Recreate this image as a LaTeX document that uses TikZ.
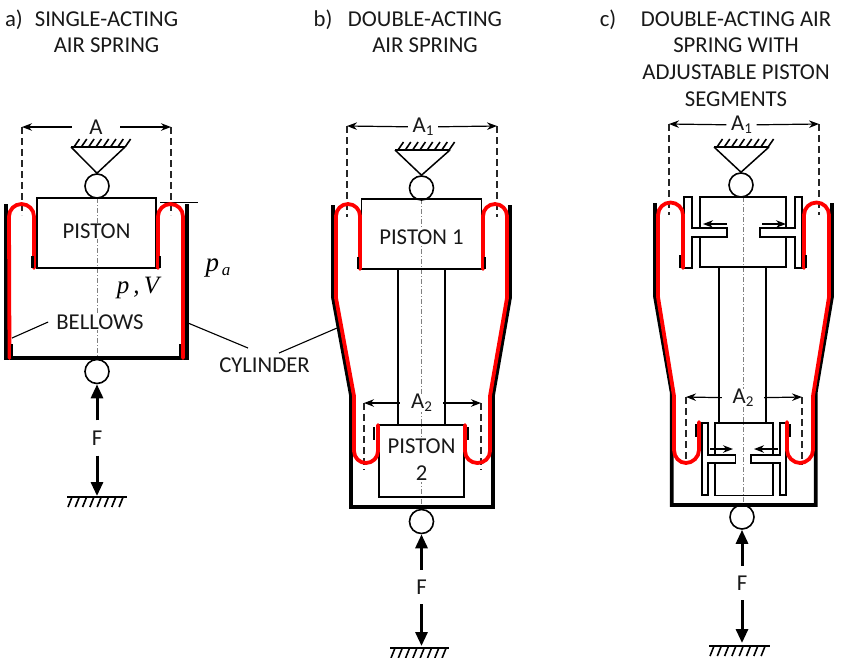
\documentclass[tikz,border=0pt]{standalone}
\usepackage{fontspec}
\setmainfont{Carlito}
\newfontfamily\tnr{Liberation Serif}
\usetikzlibrary{arrows.meta}
\tikzset{
  lab/.style={font=\fontsize{22.7}{27}\selectfont,inner sep=0pt,text=black!90,align=center},
  blab/.style={lab,fill=white,inner sep=1pt},
  dimlab/.style={lab,fill=none},
  cyl/.style={line width=3.6pt,black,line join=miter},
  bel/.style={line width=3.8pt,red,line cap=round,line join=round},
  mark0/.style={line width=2.6pt,black},
  thin0/.style={line width=1.5pt,black},
  box0/.style={draw=black,line width=1.5pt,inner sep=0pt},
  pin/.style={circle,draw=black,line width=1.6pt,minimum size=24pt,inner sep=0pt},
  dash0/.style={line width=1.2pt,black!85,dash pattern=on 7pt off 4pt},
  center0/.style={line width=.7pt,black!50,dash pattern=on 5pt off 2pt on 1pt off 2pt},
  dimarrow/.style={line width=1.2pt,black,-{Stealth[length=10pt,width=7.5pt]}},
  smallarrow/.style={line width=1.5pt,black,-{Stealth[length=10pt,width=7.5pt]}},
  force/.style={line width=3pt,black,-{Triangle[length=14pt,width=12pt]}},
  leader/.style={line width=1.1pt,black},
  hatch0/.style={line width=1.6pt,black},
  tee/.style={draw=black,fill=white,line width=1.5pt},
}
\newcommand\ceilhatch[3]{%
  \draw[hatch0] (#1,#3) -- (#2,#3);
  \foreach \hk in {0,...,7}{\pgfmathsetmacro\hx{#1+3+\hk*7.3}\draw[hatch0] (\hx,#3) -- ++(5.5,-8);}}
\newcommand\groundhatch[3]{%
  \draw[hatch0] (#1,#3) -- (#2,#3);
  \foreach \hk in {0,...,7}{\pgfmathsetmacro\hx{#1+5+\hk*7.3}\draw[hatch0] (\hx,#3) -- ++(-4,10);}}
\begin{document}
\begin{tikzpicture}[x=1pt,y=-1pt]
\useasboundingbox (0,0) rectangle (850,657);
\fill[white] (0,0) rectangle (850,657);

% ---------- titles
\node[lab] (ta) at (14,20) {a)};
\node[lab] (ta1) at (106.5,19) {SINGLE-ACTING};
\node[lab] (ta2) at (106.5,45) {AIR SPRING};
\node[lab] (tb) at (323,20) {b)};
\node[lab] (tb1) at (425,19) {DOUBLE-ACTING};
\node[lab] (tb2) at (425,45) {AIR SPRING};
\node[lab] (tc) at (608,20) {c)};
\node[lab] (tc1) at (736,19) {DOUBLE-ACTING AIR};
\node[lab] (tc2) at (736,45) {SPRING WITH};
\node[lab] (tc3) at (736,72) {ADJUSTABLE PISTON};
\node[lab] (tc4) at (736,99) {SEGMENTS};

% ---------- a) single-acting
\draw[center0] (97,198) -- (97,358);
\coordinate (dal) at (22,127); \coordinate (dar) at (171,127);
\draw[dash0] (dal) -- (22,215); \draw[dash0] (dar) -- (171,215);
\node[dimlab,minimum width=48pt] (dimA) at (96,127) {A};
\draw[dimarrow] (dimA) -- (dal); \draw[dimarrow] (dimA) -- (dar);
\node[pin] (ca) at (97,186) {};
\ceilhatch{71}{125}{147}
\draw[thin0] (71,147) -- (ca.north) -- (125,147);
\node[box0,minimum width=119pt,minimum height=70pt] (pa) at (96.5,233) {};
\node[blab] (pal) at (96.5,231) {PISTON};
\draw[thin0,line width=1pt] (160,202) -- (198,202);
\draw[cyl] (6,204) -- (6,358) -- (187,358) -- (187,204);
\draw[bel] (9.5,358) -- (9,216.5) .. controls (9,209.6) and (14.6,204) .. (21.5,204) .. controls (28.4,204) and (34,209.6) .. (34,216.5) -- (34,268);
\draw[bel] (158,268) -- (158,216.5) .. controls (158,209.6) and (163.6,204) .. (170.5,204) .. controls (177.4,204) and (183,209.6) .. (183,216.5) -- (183,358);
\draw[mark0] (32.7,256) -- (32.7,268); \draw[mark0] (160,256) -- (160,268);
\draw[mark0] (12,344) -- (12,358); \draw[mark0] (180,344) -- (180,358);
\node[inner sep=0pt,font=\tnr\itshape\fontsize{25}{25}\selectfont] (pV) at (138,288) {p\,,\,V};
\node[inner sep=0pt,font=\tnr\itshape\fontsize{27}{27}\selectfont] (pat) at (218,268) {p\raisebox{-4pt}{\fontsize{17}{17}\selectfont\,a}};
\node[blab,inner xsep=8pt] (belows) at (100,322) {BELLOWS};
\coordinate (beltip) at (12,338);
\draw[leader] (belows.west) -- (beltip);
\node[lab] (cylt) at (264.5,365) {CYLINDER};
\coordinate (cylL0) at (248,348); \coordinate (cylL1) at (188,323);
\coordinate (cylR0) at (279,353); \coordinate (cylR1) at (337,328);
\draw[leader] (cylL0) -- (cylL1); \draw[leader] (cylR0) -- (cylR1);
\node[pin] (cab) at (97,371.5) {};
\node[lab,minimum height=35pt] (Fa) at (97,438) {F};
\coordinate (ga) at (97,496);
\draw[force] (Fa) -- (cab); \draw[force] (Fa) -- (ga);
\groundhatch{67}{127}{497}

% ---------- b) double-acting
\draw[center0] (421.5,199) -- (421.5,507);
\coordinate (dbl) at (347,126); \coordinate (dbr) at (497,126);
\draw[dash0] (dbl) -- (347,217); \draw[dash0] (dbr) -- (497,217);
\node[dimlab,minimum width=30pt,fill=white] (dimB) at (423,127) {A\raisebox{-3pt}{\fontsize{15}{15}\selectfont 1}};
\draw[dimarrow] (dimB) -- (dbl); \draw[dimarrow] (dimB) -- (dbr);
\node[pin] (cb) at (421.5,188) {};
\ceilhatch{395}{450}{150}
\draw[thin0] (395,150) -- (cb.north) -- (450,150);
\node[box0,minimum width=120pt,minimum height=70pt] (pb1) at (421.5,234) {};
\node[blab] (pb1l) at (421.5,237) {PISTON 1};
\draw[thin0] (398,269) -- (398,425); \draw[thin0] (445,269) -- (445,425);
\node[box0,minimum width=85pt,minimum height=72pt] (pb2) at (421.5,461) {};
\node[blab] (pb2l) at (421.5,460) {PISTON\\2};
\coordinate (dcl) at (364,403); \coordinate (dcr) at (481,403);
\draw[dash0] (dcl) -- (364,470); \draw[dash0] (dcr) -- (481,470);
\node[dimlab,minimum width=43pt,fill=white] (dimB2) at (421.5,403) {A\raisebox{-3pt}{\fontsize{15}{15}\selectfont 2}};
\draw[dimarrow] (dimB2) -- (dcl); \draw[dimarrow] (dimB2) -- (dcr);
\draw[cyl] (333,205) -- (333,298) -- (351,396) -- (351,507) -- (493,507) -- (493,396) -- (510,298) -- (510,205);
\draw[bel] (360,269) -- (360,216) .. controls (360,209.4) and (354.6,204) .. (348,204) .. controls (341.4,204) and (336,209.4) .. (336,216) -- (336,298) -- (354,396) -- (354,451) .. controls (354,457.6) and (359.4,463) .. (366,463) .. controls (372.6,463) and (378,457.6) .. (378,451) -- (378,425);
\draw[bel] (483,269) -- (483,216) .. controls (483,209.4) and (488.4,204) .. (495,204) .. controls (501.6,204) and (507,209.4) .. (507,216) -- (507,298) -- (490,396) -- (490,451) .. controls (490,457.9) and (484.4,463) .. (477.5,463) .. controls (470.6,463) and (465,457.9) .. (465,451) -- (465,425);
\draw[mark0] (358,257) -- (358,269); \draw[mark0] (485,257) -- (485,269);
\draw[mark0] (374,427) -- (374,440); \draw[mark0] (468,427) -- (468,440);
\node[pin] (cbb) at (421.5,521.5) {};
\node[lab,minimum height=34pt] (Fb) at (421.5,587) {F};
\coordinate (gb) at (421.5,646);
\draw[force] (Fb) -- (cbb); \draw[force] (Fb) -- (gb);
\groundhatch{390}{449}{648}

% ---------- c) adjustable segments
\draw[center0] (743.5,197) -- (743.5,505);
\coordinate (del) at (669,124); \coordinate (der) at (819,124);
\draw[dash0] (del) -- (669,215); \draw[dash0] (der) -- (819,215);
\node[dimlab,minimum width=30pt,fill=white] (dimC) at (741.5,125) {A\raisebox{-3pt}{\fontsize{15}{15}\selectfont 1}};
\draw[dimarrow] (dimC) -- (del); \draw[dimarrow] (dimC) -- (der);
\node[pin] (cc) at (741,185) {};
\ceilhatch{714}{769}{147}
\draw[thin0] (714,147) -- (cc.north) -- (769,147);
\node[box0,minimum width=86pt,minimum height=70pt] (pc1) at (743,232) {};
\draw[thin0] (719,267) -- (719,422.5); \draw[thin0] (766,267) -- (766,422.5);
\draw[tee] (684,197) -- (692,197) -- (692,228) -- (727,228) -- (727,237) -- (692,237) -- (692,268) -- (684,268) -- cycle;
\draw[tee] (802,197) -- (795,197) -- (795,228) -- (760,228) -- (760,237) -- (795,237) -- (795,268) -- (802,268) -- cycle;
\coordinate (a1s) at (727,224); \coordinate (a1e) at (703,224);
\coordinate (a2s) at (762,224); \coordinate (a2e) at (786,224);
\draw[smallarrow] (a1s) -- (a1e); \draw[smallarrow] (a2s) -- (a2e);
\node[box0,minimum width=58pt,minimum height=72.5pt] (pc2) at (744,459) {};
\draw[tee] (702,423) -- (708,423) -- (708,455) -- (735.5,455) -- (735.5,463) -- (708,463) -- (708,495) -- (702,495) -- cycle;
\draw[tee] (786,423) -- (780,423) -- (780,455) -- (751,455) -- (751,463) -- (780,463) -- (780,495) -- (786,495) -- cycle;
\coordinate (a3s) at (710,449); \coordinate (a3e) at (733,449);
\coordinate (a4s) at (778,449); \coordinate (a4e) at (754,449);
\draw[smallarrow] (a3s) -- (a3e); \draw[smallarrow] (a4s) -- (a4e);
\coordinate (dfl) at (686,397); \coordinate (dfr) at (802,397);
\draw[dash0] (dfl) -- (686,465); \draw[dash0] (dfr) -- (802,465);
\node[dimlab,minimum width=42pt,fill=white] (dimC2) at (743,398) {A\raisebox{-3pt}{\fontsize{15}{15}\selectfont 2}};
\draw[dimarrow] (dimC2) -- (dfl); \draw[dimarrow] (dimC2) -- (dfr);
\draw[cyl] (655,203) -- (655,297) -- (671.7,393) -- (671.7,505) -- (815.7,505) -- (815.7,393) -- (832,297) -- (832,203);
\draw[bel] (683,268) -- (683,215) .. controls (683,208.1) and (677.4,202.5) .. (670.5,202.5) .. controls (663.6,202.5) and (658,208.1) .. (658,215) -- (658,297) -- (674,396) -- (674,450) .. controls (674,457.2) and (679.4,463) .. (686,463) .. controls (692.6,463) and (699,457.2) .. (699,450) -- (699,422);
\draw[bel] (804,268) -- (804,215) .. controls (804,208.1) and (809.6,202.5) .. (816.5,202.5) .. controls (823.4,202.5) and (829,208.1) .. (829,215) -- (829,297) -- (813,396) -- (813,450) .. controls (813,457.2) and (806.6,463) .. (800,463) .. controls (793.4,463) and (787,457.2) .. (787,450) -- (787,422);
\draw[mark0] (680,255) -- (680,268); \draw[mark0] (806,255) -- (806,268);
\draw[mark0] (696,424) -- (696,437); \draw[mark0] (790,424) -- (790,437);
\node[pin] (ccb) at (742,517) {};
\node[lab,minimum height=34pt] (Fc) at (742,583) {F};
\coordinate (gc) at (742,643);
\draw[force] (Fc) -- (ccb); \draw[force] (Fc) -- (gc);
\groundhatch{709}{770}{646}
\end{tikzpicture}
\end{document}
